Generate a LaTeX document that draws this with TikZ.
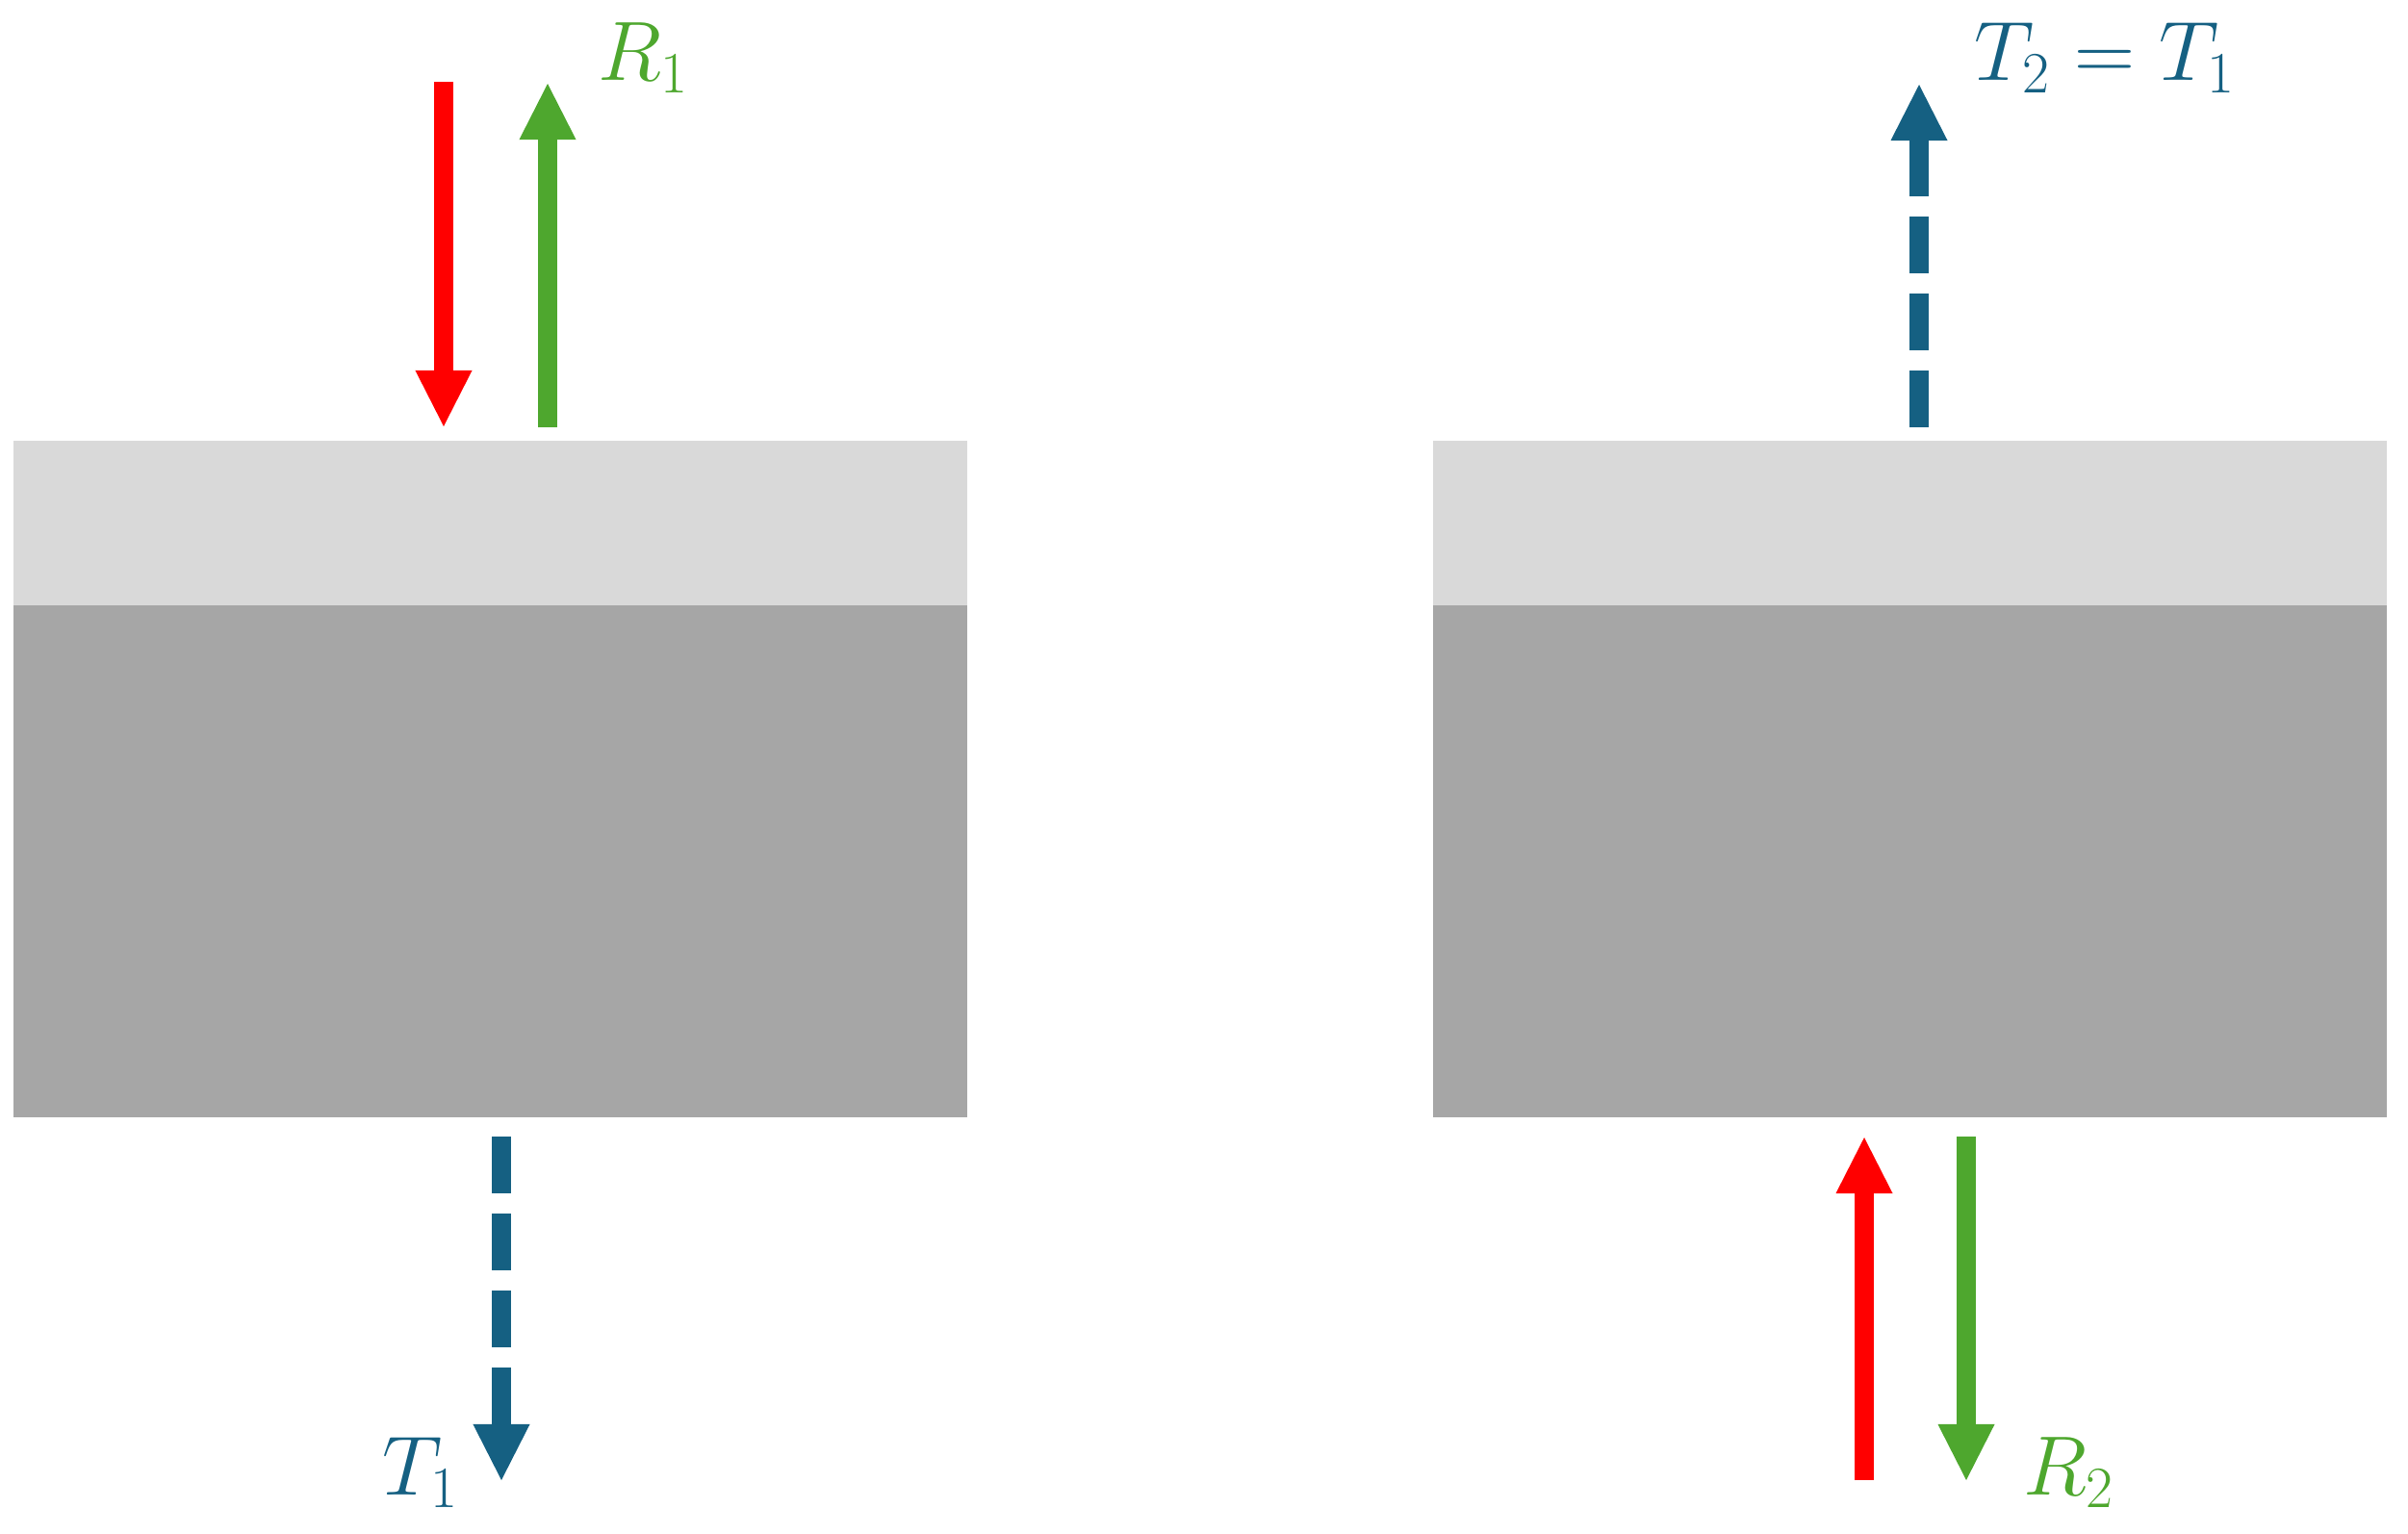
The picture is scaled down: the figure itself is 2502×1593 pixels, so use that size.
\documentclass[tikz,border=0pt]{standalone}
\usetikzlibrary{arrows.meta}

\definecolor{fluxred}{HTML}{FF0000}
\definecolor{fluxgreen}{HTML}{4EA72E}
\definecolor{fluxblue}{HTML}{156082}
\definecolor{layerlight}{HTML}{D9D9D9}
\definecolor{layerdark}{HTML}{A6A6A6}

\tikzset{
	flux/.style={line width=0.195cm,
		-{Triangle[length=0.58cm,width=0.59cm,line width=0pt]}},
	tflux/.style={flux,color=fluxblue,dash pattern=on 0.59cm off 0.21cm},
	fluxlbl/.style={font=\fontsize{23}{27}\selectfont,inner sep=0pt,anchor=base west},
}

\begin{document}
\begin{tikzpicture}[x=0.01cm,y=-0.01cm]
%
	\useasboundingbox (0,0) rectangle (2502,1593);
%
	% left slab
	\fill[layerlight] (14,458) rectangle (1005,629);
	\fill[layerdark] (14,629) rectangle (1005,1161);
	% right slab
	\fill[layerlight] (1489,458) rectangle (2480,629);
	\fill[layerdark] (1489,629) rectangle (2480,1161);
%
	\coordinate (inA) at (461,85);
	\coordinate (inB) at (461,443);
	\coordinate (refA) at (569,444);
	\coordinate (refB) at (569,87);
	\coordinate (trA) at (521,1181);
	\coordinate (trB) at (521,1538);
	\draw[flux,fluxred] (inA) -- (inB);
	\draw[flux,fluxgreen] (refA) -- (refB);
	\draw[tflux] (trA) -- (trB);
%
	\coordinate (trC) at (1994,444);
	\coordinate (trD) at (1994,88);
	\coordinate (inC) at (1937,1538);
	\coordinate (inD) at (1937,1182);
	\coordinate (refC) at (2043,1181);
	\coordinate (refD) at (2043,1538);
	\draw[tflux] (trC) -- (trD);
	\draw[flux,fluxred] (inC) -- (inD);
	\draw[flux,fluxgreen] (refC) -- (refD);
%
	\node[fluxlbl,text=fluxgreen] (lblRa) at (621,83) {$R_1$};
	\node[fluxlbl,text=fluxblue] (lblTa) at (397,1553) {$T_1$};
	\node[fluxlbl,text=fluxblue] (lblTb) at (2051,83) {$T_2 = T_1$};
	\node[fluxlbl,text=fluxgreen] (lblRb) at (2102,1553) {$R_2$};
\end{tikzpicture}
\end{document}
